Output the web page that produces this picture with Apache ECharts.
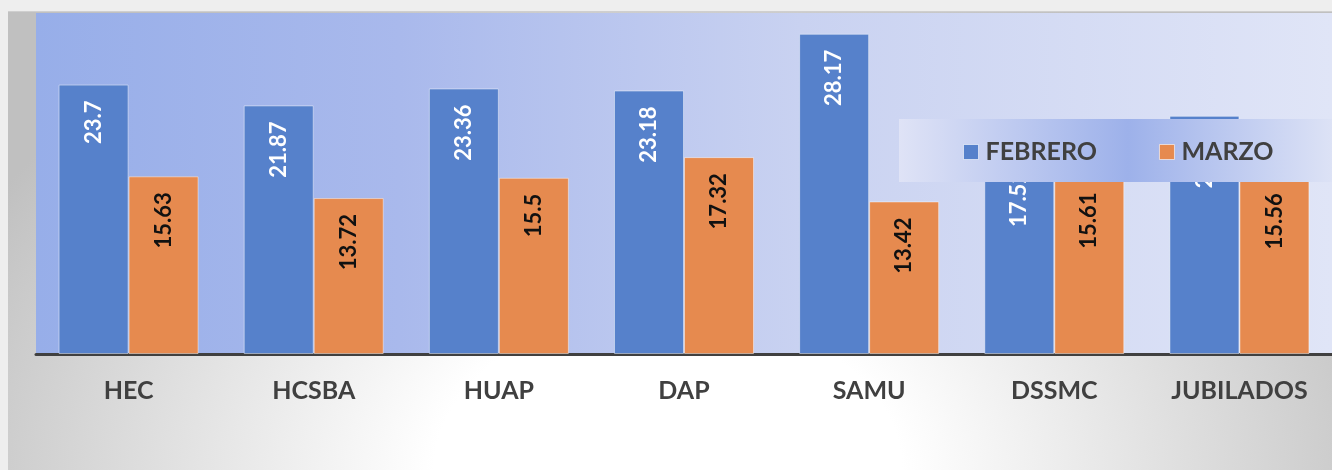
<!DOCTYPE html>
<html>
<head>
<meta charset="utf-8">
<script src="https://cdn.jsdelivr.net/npm/echarts@6/dist/echarts.min.js"></script>
<style>
  html, body { margin: 0; padding: 0; background: #eeeeee; width: 1332px; height: 470px; overflow: hidden; }
  #chart {
    position: absolute; left: 8px; top: 11px; width: 1324px; height: 459px;
    box-sizing: border-box; border-top: 1px solid #cfcfcf;
    background: radial-gradient(ellipse 780px 540px at 660px 459px, #ffffff 0%, #ffffff 30%, #c0c0c0 100%);
  }
</style>
</head>
<body>
<div id="chart"></div>
<script>
const categories = ['HEC', 'HCSBA', 'HUAP', 'DAP', 'SAMU', 'DSSMC', 'JUBILADOS'];
const febrero = [23.7, 21.87, 23.36, 23.18, 28.17, 17.52, 20.95];
const marzo = [15.63, 13.72, 15.5, 17.32, 13.42, 15.61, 15.56];
const seriesNames = ['FEBRERO', 'MARZO'];

const FONT = 'Lato, "Open Sans", sans-serif';
const chart = echarts.init(document.getElementById('chart'));

function labelCfg(color) {
  return {
    show: true,
    position: 'insideTop',
    rotate: 90,
    align: 'right',
    verticalAlign: 'middle',
    distance: 16,
    color: color,
    fontFamily: FONT,
    fontWeight: 'bold',
    fontSize: 22
  };
}

chart.setOption({
  animation: false,
  grid: {
    left: 28, top: 1, width: 1298, height: 341,
    show: true, borderWidth: 0,
    backgroundColor: {
      type: 'linear', x: 0, y: 0, x2: 1, y2: 0,
      colorStops: [
        { offset: 0, color: '#97AEE9' },
        { offset: 0.28, color: '#A9B9EC' },
        { offset: 0.59, color: '#C9D2F1' },
        { offset: 1, color: '#E0E5F7' }
      ]
    }
  },
  graphic: [{
    type: 'rect', z: 3, left: 891, top: 107,
    shape: { width: 440, height: 63 },
    style: {
      fill: {
        type: 'linear', x: 0, y: 0, x2: 1, y2: 0,
        colorStops: [
          { offset: 0, color: '#DFE3F6' },
          { offset: 0.52, color: '#9DB1EA' },
          { offset: 1, color: '#DFE4F6' }
        ]
      }
    }
  }],
  legend: {
    z: 10,
    left: 955, top: 125,
    padding: 0,
    itemGap: 62,
    itemWidth: 15, itemHeight: 15,
    icon: 'rect',
    data: seriesNames,
    itemStyle: { borderColor: 'rgba(255,255,255,0.6)', borderWidth: 1 },
    textStyle: { fontFamily: FONT, fontWeight: 'bold', fontSize: 25, color: '#404040', lineHeight: 30, padding: [0, 0, 0, 2] }
  },
  xAxis: {
    type: 'category',
    data: categories,
    axisTick: { show: false },
    axisLine: { lineStyle: { color: '#404040', width: 3 } },
    axisLabel: { color: '#404040', fontFamily: FONT, fontWeight: 'bold', fontSize: 25, margin: 24 }
  },
  yAxis: {
    type: 'value', min: 0, max: 30,
    show: false,
    splitLine: { show: false }
  },
  series: [
    {
      name: seriesNames[0], type: 'bar', data: febrero,
      barWidth: 70, barGap: '0%',
      itemStyle: { color: '#5681CB', borderColor: 'rgba(255,255,255,0.45)', borderWidth: 1 },
      label: labelCfg('#ffffff')
    },
    {
      name: seriesNames[1], type: 'bar', data: marzo,
      barWidth: 70, barGap: '0%',
      itemStyle: { color: '#E68A4F', borderColor: 'rgba(255,255,255,0.45)', borderWidth: 1 },
      label: labelCfg('#111111')
    }
  ]
});
</script>
</body>
</html>
